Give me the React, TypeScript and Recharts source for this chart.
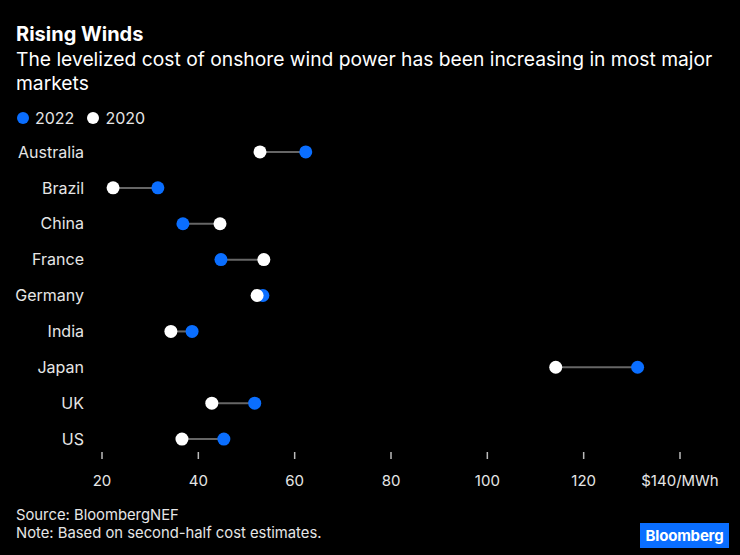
import React from 'react';
import { ComposedChart, Bar, Line, XAxis, YAxis } from 'recharts';

document.body.style.margin = '0';
document.body.style.background = '#000';

const countries = ['Australia', 'Brazil', 'China', 'France', 'Germany', 'India', 'Japan', 'UK', 'US'];
const cost2022 = [62.3, 31.6, 36.8, 44.7, 53.4, 38.7, 131.2, 51.7, 45.3];
const cost2020 = [52.8, 22.3, 44.5, 53.6, 52.2, 34.3, 114.2, 42.8, 36.6];
const xTicks = [20, 40, 60, 80, 100, 120, 140];

const BLUE = '#0A6EFF';
const FONT = 'Inter, "Liberation Sans", Arial, sans-serif';

const data = countries.map((c, i) => ({
    country: c,
    v2022: cost2022[i],
    v2020: cost2020[i],
    range: [Math.min(cost2020[i], cost2022[i]), Math.max(cost2020[i], cost2022[i])],
}));

const XTick = (props: any) => {
    const { x, y, payload } = props;
    const label = payload.value === 140 ? '$140/MWh' : String(payload.value);
    return (
        <g>
            <line x1={x} x2={x} y1={y - 23} y2={y - 16} stroke="#bbb" strokeWidth={1.5} />
            <text x={x} y={y} dy="0.71em" textAnchor="middle" fill="#e6e6e6" fontSize={15} fontFamily={FONT}>
                {label}
            </text>
        </g>
    );
};

const App: React.FC = () => {
    return (
        <div style={{ position: 'relative', width: 740, height: 555, background: '#000', fontFamily: FONT, overflow: 'hidden' }}>
            <div style={{ position: 'absolute', left: 16, top: 22, color: '#fff', fontSize: 20, fontWeight: 700 }}>
                Rising Winds
            </div>
            <div style={{ position: 'absolute', left: 16, top: 47, width: 715, color: '#fff', fontSize: 19.25, lineHeight: '24px' }}>
                The levelized cost of onshore wind power has been increasing in most major markets
            </div>
            <div style={{ position: 'absolute', left: 17, top: 108, display: 'flex', alignItems: 'center', color: '#e6e6e6', fontSize: 16 }}>
                <span style={{ width: 12, height: 12, borderRadius: 6, background: BLUE, marginRight: 6 }} />
                <span style={{ marginRight: 13 }}>2022</span>
                <span style={{ width: 12, height: 12, borderRadius: 6, background: '#fff', marginRight: 6 }} />
                <span>2020</span>
            </div>

            <div style={{ position: 'absolute', left: 0, top: 0 }}>
                <ComposedChart
                    width={740}
                    height={555}
                    layout="vertical"
                    data={data}
                    margin={{ top: 134, right: 60, bottom: 0, left: 0 }}
                    barCategoryGap={0}
                >
                    <XAxis
                        type="number"
                        domain={[20, 140]}
                        ticks={xTicks}
                        axisLine={false}
                        tickLine={false}
                        tickSize={0}
                        tickMargin={18}
                        height={98}
                        tick={<XTick />}
                        interval={0}
                    />
                    <YAxis
                        type="category"
                        dataKey="country"
                        width={102}
                        axisLine={false}
                        tickLine={false}
                        tickMargin={18}
                        tickSize={0}
                        tick={{ fill: '#e6e6e6', fontSize: 16, fontFamily: FONT }}
                        interval={0}
                    />
                    <Bar dataKey="range" barSize={2} fill="#666" isAnimationActive={false} />
                    <Line
                        dataKey="v2022"
                        stroke="transparent"
                        strokeWidth={0}
                        dot={{ r: 6.5, fill: BLUE, stroke: 'none' }}
                        activeDot={false}
                        isAnimationActive={false}
                    />
                    <Line
                        dataKey="v2020"
                        stroke="transparent"
                        strokeWidth={0}
                        dot={{ r: 6.5, fill: '#fff', stroke: 'none' }}
                        activeDot={false}
                        isAnimationActive={false}
                    />
                </ComposedChart>
            </div>

            <div style={{ position: 'absolute', left: 16, top: 506, color: '#e6e6e6', fontSize: 14.8, lineHeight: '18px' }}>
                <div>Source: BloombergNEF</div>
                <div>Note: Based on second-half cost estimates.</div>
            </div>
            <div
                style={{
                    position: 'absolute', left: 640, top: 523, width: 89, height: 25, background: BLUE,
                    color: '#fff', fontSize: 15, fontWeight: 700, display: 'flex', alignItems: 'center',
                    justifyContent: 'center', letterSpacing: -0.2,
                }}
            >
                Bloomberg
            </div>
        </div>
    );
};

export default App;
